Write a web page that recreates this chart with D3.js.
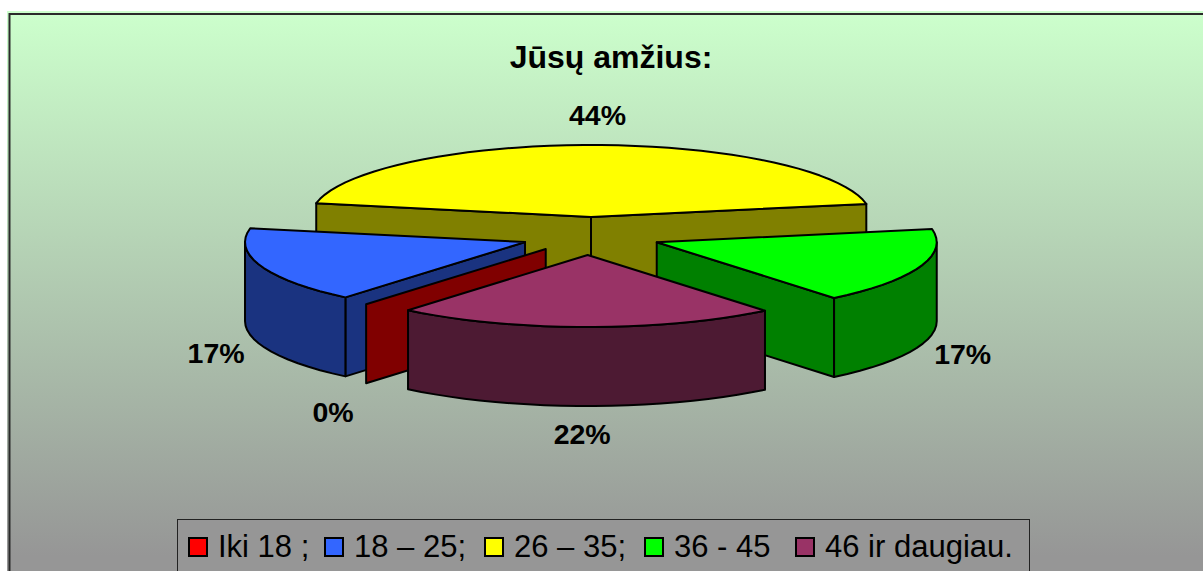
<!DOCTYPE html>
<html>
<head>
<meta charset="utf-8">
<script src="https://cdn.jsdelivr.net/npm/d3@7"></script>
<style>
  html, body { margin: 0; padding: 0; background: #fff; overflow: hidden; }
  text { font-family: "Liberation Sans", Arial, sans-serif; fill: #000; }
</style>
</head>
<body>
<div id="chart"></div>
<script>
var width = 1203, height = 571;

// values
var categories = ['Iki 18 ;', '18 – 25;', '26 – 35;', '36 - 45', '46 ir daugiau.'];
var values = [0, 17, 44, 17, 22];
var percentLabels = ['0%', '17%', '44%', '17%', '22%'];
var exploded = [1, 1, 0, 1, 1];
var topColors = ['#ff0000', '#3366ff', '#ffff00', '#00ff00', '#993366'];
var wallColors = ['#800000', '#1a3380', '#808000', '#008000', '#4d1a33'];

// layout
var cx = 591, cy = 217, rx = 280, ry = 72, depth = 79;
var startAngle = 219.9 * Math.PI / 180;
var legendX = [189, 325, 485, 645, 796];
var labelNudge = [[-33, 29], [-45, 8], [5, -30], [43, 8], [-4, 28]];

var svg = d3.select('#chart').append('svg')
  .attr('width', width)
  .attr('height', height);

var grad = svg.append('defs').append('linearGradient')
  .attr('id', 'bg')
  .attr('gradientUnits', 'userSpaceOnUse')
  .attr('x1', 0).attr('y1', 13).attr('x2', 0).attr('y2', 556);
grad.append('stop').attr('offset', 0).attr('stop-color', '#ccffcc');
grad.append('stop').attr('offset', 1).attr('stop-color', '#969696');

// light halo round the frame
svg.append('rect')
  .attr('x', 7).attr('y', 11)
  .attr('width', width).attr('height', height)
  .attr('fill', 'url(#bg)');

// frame, its right and bottom sides fall outside the picture
svg.append('rect')
  .attr('x', 9.5).attr('y', 14)
  .attr('width', width).attr('height', height)
  .attr('fill', 'url(#bg)')
  .attr('stroke', '#2a2a2a')
  .attr('stroke-width', 2);

var pie = d3.pie()
  .sort(null)
  .startAngle(startAngle)
  .endAngle(startAngle + 2 * Math.PI);

var slices = pie(values);

// explosion is foreshortened more towards the sides of the pie
function offset(d, i) {
  var mid = (d.startAngle + d.endAngle) / 2,
      s = Math.sin(mid),
      c = Math.cos(mid);
  if (!exploded[i]) return [0, 0];
  return [70 * s - 3 * Math.pow(c, 8), 38 - 14.5 * s * s];
}

function rim(a) {
  return [rx * Math.sin(a), -ry * Math.cos(a)];
}

// points along the rim, coarse on purpose: the original is a rough polygon
function rimPoints(a0, a1) {
  var n = Math.max(1, Math.round(Math.abs(a1 - a0) / (3.5 * Math.PI / 180)));
  return d3.range(n + 1).map(function(k) {
    return rim(a0 + (a1 - a0) * k / n);
  });
}

var line = d3.line();

var groups = svg.append('g');

// back to front
[2, 1, 3, 0, 4].forEach(function(i) {
  var d = slices[i],
      off = offset(d, i),
      g = groups.append('g')
        .attr('transform', 'translate(' + (cx + off[0]) + ',' + (cy + off[1]) + ')');

  function wall(pts) {
    var down = pts.map(function(p) { return [p[0], p[1] + depth]; }).reverse();
    g.append('path')
      .attr('d', line(pts.concat(down)) + 'Z')
      .attr('fill', wallColors[i])
      .attr('stroke', '#000')
      .attr('stroke-width', 2)
      .attr('stroke-linejoin', 'round');
  }

  // only the walls that turn to the viewer; pie angles run past a full turn here
  var a0 = d.startAngle, a1 = d.endAngle;
  if (i === 2) {
    wall([[0, 0], rim(a0)]);
    wall([[0, 0], rim(a1)]);
  } else if (i === 0) {
    wall([[0, 0], rim(a0)]);
  } else if (i === 1) {
    wall([[0, 0], rim(a0)]);
    wall(rimPoints(a0, 1.5 * Math.PI));
  } else if (i === 3) {
    wall([[0, 0], rim(a1)]);
    wall(rimPoints(2.5 * Math.PI, a1));
  } else if (i === 4) {
    wall(rimPoints(a0, a1));
  }

  if (a1 > a0) {
    g.append('path')
      .attr('d', line([[0, 0]].concat(rimPoints(a0, a1))) + 'Z')
      .attr('fill', topColors[i])
      .attr('stroke', '#000')
      .attr('stroke-width', 2)
      .attr('stroke-linejoin', 'round');
  }
});

// percent labels, hung off the outer edge of each slice
svg.append('g').selectAll('text')
  .data(slices)
  .join('text')
  .attr('text-anchor', 'middle')
  .attr('dominant-baseline', 'central')
  .attr('font-weight', 'bold')
  .attr('font-size', 28.5)
  .attr('x', function(d, i) {
    var mid = (d.startAngle + d.endAngle) / 2;
    return cx + offset(d, i)[0] + rim(mid)[0] + labelNudge[i][0];
  })
  .attr('y', function(d, i) {
    var mid = (d.startAngle + d.endAngle) / 2;
    return cy + offset(d, i)[1] + rim(mid)[1] + (exploded[i] ? depth : 0) + labelNudge[i][1];
  })
  .text(function(d, i) { return percentLabels[i]; });

svg.append('text')
  .attr('x', 611)
  .attr('y', 68)
  .attr('text-anchor', 'middle')
  .attr('font-weight', 'bold')
  .attr('font-size', 32)
  .text('Jūsų amžius:');

// legend
svg.append('rect')
  .attr('x', 177.5).attr('y', 519.5)
  .attr('width', 852).attr('height', 80)
  .attr('fill', '#969696')
  .attr('stroke', '#222')
  .attr('stroke-width', 1);

var legend = svg.append('g').selectAll('g')
  .data(categories)
  .join('g')
  .attr('transform', function(d, i) { return 'translate(' + legendX[i] + ',538)'; });

legend.append('rect')
  .attr('width', 18).attr('height', 18)
  .attr('fill', function(d, i) { return topColors[i]; })
  .attr('stroke', '#000')
  .attr('stroke-width', 2);

legend.append('text')
  .attr('x', 29)
  .attr('y', 19)
  .attr('font-size', 31)
  .text(function(d) { return d; });
</script>
</body>
</html>
